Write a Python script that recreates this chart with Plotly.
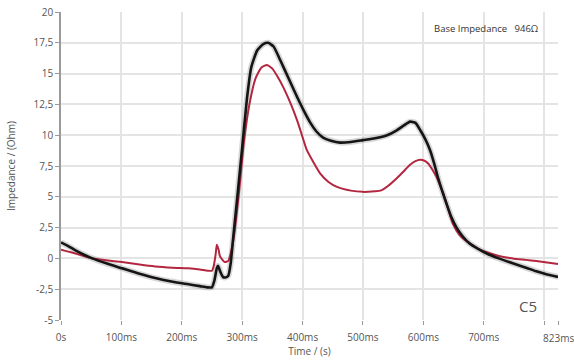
import plotly.graph_objects as go

# Time (ms) and impedance (Ohm)
black_t = [0, 12, 24, 38, 52, 75, 101, 130, 156, 185, 211, 230, 242, 250, 254, 258, 260, 264, 268, 272, 277, 281, 285, 292, 300, 308, 315, 325, 335, 343, 352, 363, 377, 391, 402, 413, 423, 434, 447, 462, 480, 500, 520, 540, 556, 568, 578, 587, 595, 603, 611, 618, 624, 631, 638, 646, 655, 665, 677, 690, 705, 725, 748, 770, 787, 805, 823]
black_v = [1.3, 1.0, 0.65, 0.3, 0.0, -0.4, -0.8, -1.25, -1.6, -1.9, -2.1, -2.25, -2.35, -2.35, -1.8, -0.8, -0.6, -1.1, -1.5, -1.55, -1.4, -0.4, 1.6, 5.0, 9.0, 13.0, 15.5, 16.9, 17.4, 17.5, 17.2, 16.1, 14.6, 13.1, 12.0, 11.0, 10.3, 9.8, 9.55, 9.4, 9.45, 9.6, 9.75, 10.0, 10.4, 10.8, 11.1, 11.0, 10.4, 9.7, 8.8, 7.7, 6.6, 5.5, 4.5, 3.4, 2.5, 1.8, 1.2, 0.8, 0.4, 0.0, -0.4, -0.75, -1.05, -1.3, -1.5]

red_t = [0, 12, 24, 38, 52, 75, 101, 130, 156, 185, 211, 230, 243, 250, 253, 256, 258, 261, 263, 267, 271, 277, 281, 287, 295, 303, 312, 322, 332, 341, 350, 358, 368, 380, 391, 399, 407, 418, 429, 443, 457, 480, 500, 520, 529, 542, 556, 568, 578, 587, 595, 601, 608, 615, 622, 627, 633, 641, 649, 660, 677, 690, 705, 725, 748, 770, 787, 805, 823]
red_v = [0.7, 0.55, 0.4, 0.2, 0.0, -0.15, -0.3, -0.5, -0.65, -0.75, -0.8, -0.9, -1.0, -1.0, -0.6, 0.3, 1.1, 0.7, 0.2, -0.1, -0.3, -0.2, 0.4, 2.0, 5.5, 9.5, 12.5, 14.6, 15.5, 15.7, 15.4, 14.8, 13.9, 12.6, 11.2, 10.0, 8.8, 7.8, 6.9, 6.2, 5.8, 5.5, 5.4, 5.45, 5.5, 5.9, 6.5, 7.1, 7.6, 7.9, 8.0, 7.95, 7.7, 7.2, 6.6, 6.0, 5.3, 4.0, 2.8, 1.9, 1.2, 0.8, 0.5, 0.2, 0.0, -0.12, -0.22, -0.33, -0.45]

x_tickvals = [0, 100, 200, 300, 400, 500, 600, 700, 800, 823]
x_ticktext = ["0s", "100ms", "200ms", "300ms", "400ms", "500ms", "600ms", "700ms", "", ""]
x_end_label = "823ms"
y_tickvals = [-5, -2.5, 0, 2.5, 5, 7.5, 10, 12.5, 15, 17.5, 20]
y_ticktext = ["-5", "-2,5", "0", "2,5", "5", "7,5", "10", "12,5", "15", "17,5", "20"]

fig = go.Figure()
fig.add_trace(go.Scatter(x=black_t, y=black_v, mode="lines",
                         line=dict(color="rgba(140,140,140,0.35)", width=6, shape="spline", smoothing=0.5),
                         hoverinfo="skip", showlegend=False))
fig.add_trace(go.Scatter(x=red_t, y=red_v, mode="lines",
                         line=dict(color="#b3263f", width=2, shape="spline", smoothing=0.5),
                         showlegend=False))
fig.add_trace(go.Scatter(x=black_t, y=black_v, mode="lines",
                         line=dict(color="#151515", width=2.6, shape="spline", smoothing=0.5),
                         showlegend=False))

tickfont = dict(family="Open Sans", size=10, color="#555555")

fig.update_layout(
    width=574, height=360,
    margin=dict(l=61, r=16, t=12, b=40),
    paper_bgcolor="white", plot_bgcolor="white",
    font=dict(family="Open Sans", color="#444444"),
    xaxis=dict(range=[0, 823], tickvals=x_tickvals, ticktext=x_ticktext, automargin=False,
               showgrid=True, gridcolor="#e4e4e4", gridwidth=1.5, zeroline=False,
               showline=False, ticks="outside", ticklen=4, tickcolor="#9a9a9a",
               ticklabelstandoff=4, tickfont=tickfont,
               title=dict(text="Time / (s)", font=dict(size=10, color="#555555"), standoff=3)),
    yaxis=dict(range=[-5, 20], tickvals=y_tickvals, ticktext=y_ticktext, automargin=False,
               showgrid=True, gridcolor="#e4e4e4", gridwidth=1.5, zeroline=False,
               showline=True, linecolor="#9a9a9a", linewidth=1.5,
               ticks="outside", ticklen=4, tickcolor="#9a9a9a", tickfont=tickfont,
               title=dict(text="Impedance / (Ohm)", font=dict(size=10, color="#555555"), standoff=16)),
    annotations=[
        dict(text="Base Impedance   946Ω", xref="paper", yref="paper", x=0.966, y=0.945,
             xanchor="right", yanchor="middle", showarrow=False,
             font=dict(family="Open Sans", size=9.5, color="#333333")),
        dict(text="C5", xref="paper", yref="paper", x=0.94, y=0.045,
             xanchor="center", yanchor="middle", showarrow=False,
             font=dict(family="Open Sans", size=15, color="#555555")),
        dict(text=x_end_label, xref="x", yref="paper", x=823, y=-0.06,
             xanchor="center", yanchor="middle", showarrow=False,
             font=tickfont),
    ],
)

fig.write_html("out.html")
